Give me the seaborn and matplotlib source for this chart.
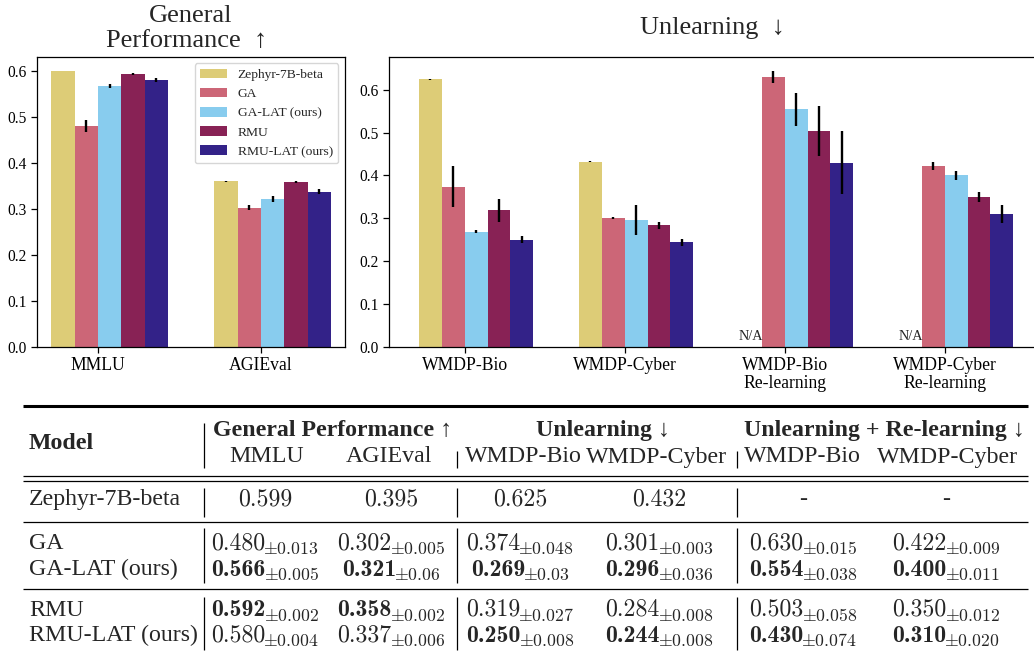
import numpy as np
import pandas as pd
import seaborn as sns
import matplotlib.pyplot as plt
from matplotlib.patches import Patch

sns.set_theme(style='ticks', rc={'axes.edgecolor': 'black', 'xtick.color': 'black',
                                 'ytick.color': 'black', 'axes.linewidth': 0.9})
plt.rcParams['font.family'] = ['Liberation Serif', 'DejaVu Serif']
plt.rcParams['mathtext.fontset'] = 'cm'

# ---- chart data ----
models = ['Zephyr-7B-beta', 'GA', 'GA-LAT (ours)', 'RMU', 'RMU-LAT (ours)']
colors = ['#DDCC77', '#CC6677', '#88CCEE', '#882255', '#332288']

gen_tasks = ['MMLU', 'AGIEval']
gen_zephyr = [0.599, 0.359]
gen_ga = [0.480, 0.302]
gen_galat = [0.566, 0.321]
gen_rmu = [0.592, 0.358]
gen_rmulat = [0.580, 0.337]
gen_err_zephyr = [0.001, 0.001]
gen_err_ga = [0.013, 0.005]
gen_err_galat = [0.005, 0.006]
gen_err_rmu = [0.002, 0.002]
gen_err_rmulat = [0.004, 0.006]

unl_tasks = ['WMDP-Bio', 'WMDP-Cyber', 'WMDP-Bio\nRe-learning', 'WMDP-Cyber\nRe-learning']
unl_zephyr = [0.625, 0.432, np.nan, np.nan]
unl_ga = [0.374, 0.301, 0.630, 0.422]
unl_galat = [0.269, 0.296, 0.554, 0.400]
unl_rmu = [0.319, 0.284, 0.503, 0.350]
unl_rmulat = [0.250, 0.244, 0.430, 0.310]
unl_err_zephyr = [0.001, 0.001, np.nan, np.nan]
unl_err_ga = [0.048, 0.003, 0.015, 0.009]
unl_err_galat = [0.003, 0.036, 0.038, 0.011]
unl_err_rmu = [0.027, 0.008, 0.058, 0.012]
unl_err_rmulat = [0.008, 0.008, 0.074, 0.020]

# ---- table data ----
tbl_groups = ['General Performance \u2191', 'Unlearning \u2193', 'Unlearning + Re-learning \u2193']
tbl_cols = ['MMLU', 'AGIEval', 'WMDP-Bio', 'WMDP-Cyber', 'WMDP-Bio', 'WMDP-Cyber']
tbl_zephyr = ['0.599', '0.395', '0.625', '0.432', '-', '-']
tbl_ga = ['0.480', '0.302', '0.374', '0.301', '0.630', '0.422']
tbl_ga_std = ['0.013', '0.005', '0.048', '0.003', '0.015', '0.009']
tbl_ga_bold = [0, 0, 0, 0, 0, 0]
tbl_galat = ['0.566', '0.321', '0.269', '0.296', '0.554', '0.400']
tbl_galat_std = ['0.005', '0.06', '0.03', '0.036', '0.038', '0.011']
tbl_galat_bold = [1, 1, 1, 1, 1, 1]
tbl_rmu = ['0.592', '0.358', '0.319', '0.284', '0.503', '0.350']
tbl_rmu_std = ['0.002', '0.002', '0.027', '0.008', '0.058', '0.012']
tbl_rmu_bold = [1, 1, 0, 0, 0, 0]
tbl_rmulat = ['0.580', '0.337', '0.250', '0.244', '0.430', '0.310']
tbl_rmulat_std = ['0.004', '0.006', '0.008', '0.008', '0.074', '0.020']
tbl_rmulat_bold = [0, 0, 1, 1, 1, 1]

W = 1034
H = 653
bw = 1 / 7


def to_frame(tasks, means, errs):
    rows = []
    for m, vals, ers in zip(models, means, errs):
        for t, v, e in zip(tasks, vals, ers):
            if not np.isnan(v):
                rows.append({'task': t, 'model': m, 'value': v, 'err': e})
    return pd.DataFrame(rows)


def bar_panel(ax, tasks, means, errs):
    df = to_frame(tasks, means, errs)
    sns.barplot(data=df, x='task', y='value', hue='model', order=tasks, hue_order=models,
                palette=colors, width=5 * bw, errorbar=None, saturation=1,
                linewidth=0, legend=False, ax=ax)
    idx = {t: k for k, t in enumerate(tasks)}
    for i, m in enumerate(models):
        sub = df[df['model'] == m]
        xs = [idx[t] + (i - 2) * bw for t in sub['task']]
        ax.errorbar(xs, sub['value'], yerr=sub['err'], fmt='none', ecolor='black',
                    elinewidth=1.7, capsize=0, zorder=5)
    n = len(tasks)
    span = n - 1 + 5 * bw
    ax.set_xlim(-2.5 * bw - 0.05 * span, n - 1 + 2.5 * bw + 0.05 * span)
    ax.set_ylim(0, (df['value'] + df['err']).max() * 1.05)
    ax.set_xticks(np.arange(n) - bw / 2)
    ax.set_xticklabels(tasks, fontsize=12.7, linespacing=1.05)
    ax.set_yticks(np.arange(0, 0.61, 0.1))
    ax.set_yticklabels([f'{v:.1f}' for v in np.arange(0, 0.61, 0.1)], fontsize=11.2)
    ax.tick_params(length=4, width=0.9, direction='out')
    ax.set_xlabel('')
    ax.set_ylabel('')
    return df


fig = plt.figure(figsize=(W / 100, H / 100), dpi=100)
canvas = fig.add_axes([0, 0, 1, 1], zorder=-1)
canvas.set_xlim(0, W)
canvas.set_ylim(H, 0)
canvas.axis('off')
renderer = fig.canvas.get_renderer()


def px_axes(x0, y0, x1, y1):
    return fig.add_axes([x0 / W, 1 - y1 / H, (x1 - x0) / W, (y1 - y0) / H])


ax1 = px_axes(37.3, 56.7, 345, 346.7)
ax2 = px_axes(389.3, 56.7, 1043, 346.7)

bar_panel(ax1, gen_tasks, [gen_zephyr, gen_ga, gen_galat, gen_rmu, gen_rmulat],
          [gen_err_zephyr, gen_err_ga, gen_err_galat, gen_err_rmu, gen_err_rmulat])
bar_panel(ax2, unl_tasks, [unl_zephyr, unl_ga, unl_galat, unl_rmu, unl_rmulat],
          [unl_err_zephyr, unl_err_ga, unl_err_galat, unl_err_rmu, unl_err_rmulat])

for k, v in enumerate(unl_zephyr):
    if np.isnan(v):
        ax2.text(k - 2 * bw, 0.016, 'N/A', ha='center', va='baseline', fontsize=10.3)

handles = [Patch(facecolor=c, edgecolor='none', label=m) for m, c in zip(models, colors)]
ax1.legend(handles=handles, loc='upper right', fontsize=9.7, frameon=True)

# titles
canvas.text(191, 21.7, 'General', ha='center', va='baseline', fontsize=19)
canvas.text(187, 46.7, 'Performance  \u2191', ha='center', va='baseline', fontsize=19)
canvas.text(712, 34.3, 'Unlearning  \u2193', ha='center', va='baseline', fontsize=19)

# ---- table ----
fs = 17.2
x_left, x_right = 23, 1028
col_x = [265, 391, 520, 659, 803, 946]
head_x = [267, 389, 523, 657, 802, 948]
group_x = [333, 603, 884]
vx = [203.5, 457, 737]


def hline(y, lw):
    canvas.plot([x_left, x_right], [y, y], color='black', lw=lw, solid_capstyle='butt')


def vline(x, y0, y1):
    canvas.plot([x, x], [y0, y1], color='black', lw=0.9, solid_capstyle='butt')


def cell(cx, y, val, std, bold):
    # main number in Computer Modern (bold = cmb10), std as a lowered smaller script
    main = canvas.text(0, y, val, ha='left', va='baseline', fontsize=fs,
                       family='cmb10' if bold else 'cmr10')
    sub = canvas.text(0, y + 5, r'$\pm%s$' % std, ha='left', va='baseline', fontsize=fs * 0.74)
    w1 = main.get_window_extent(renderer).width
    w2 = sub.get_window_extent(renderer).width
    gap = -2
    x0 = cx - (w1 + gap + w2) / 2
    main.set_x(x0)
    sub.set_x(x0 + w1 + gap)


hline(406, 2.2)
hline(475.5, 0.9)
hline(481, 0.9)
hline(521.5, 0.9)
hline(589, 0.9)

vline(vx[0], 423, 468)
vline(vx[1], 451, 468)
vline(vx[2], 451, 468)
for y0, y1 in [(488, 517), (528, 583), (597, 650)]:
    for x in vx:
        vline(x, y0, y1)

canvas.text(29, 449, 'Model', ha='left', va='baseline', fontsize=fs, fontweight='bold')
for gx, g in zip(group_x, tbl_groups):
    canvas.text(gx, 436, g, ha='center', va='baseline', fontsize=fs, fontweight='bold')
for hx, c in zip(head_x, tbl_cols):
    canvas.text(hx, 462.5, c, ha='center', va='baseline', fontsize=fs)

canvas.text(29, 505, models[0], ha='left', va='baseline', fontsize=fs)
for cx, v in zip(col_x, tbl_zephyr):
    if v == '-':
        canvas.text(cx, 505, v, ha='center', va='baseline', fontsize=fs)
    else:
        canvas.text(cx, 505, v, ha='center', va='baseline', fontsize=fs, family='cmr10')

rows = [(models[1], tbl_ga, tbl_ga_std, tbl_ga_bold, 549),
        (models[2], tbl_galat, tbl_galat_std, tbl_galat_bold, 575.5),
        (models[3], tbl_rmu, tbl_rmu_std, tbl_rmu_bold, 616),
        (models[4], tbl_rmulat, tbl_rmulat_std, tbl_rmulat_bold, 641.5)]
for name, vals, stds, bolds, y in rows:
    canvas.text(29, y, name, ha='left', va='baseline', fontsize=fs)
    for cx, v, s, b in zip(col_x, vals, stds, bolds):
        cell(cx, y, v, s, b)

fig.savefig('out.png', dpi=100)
